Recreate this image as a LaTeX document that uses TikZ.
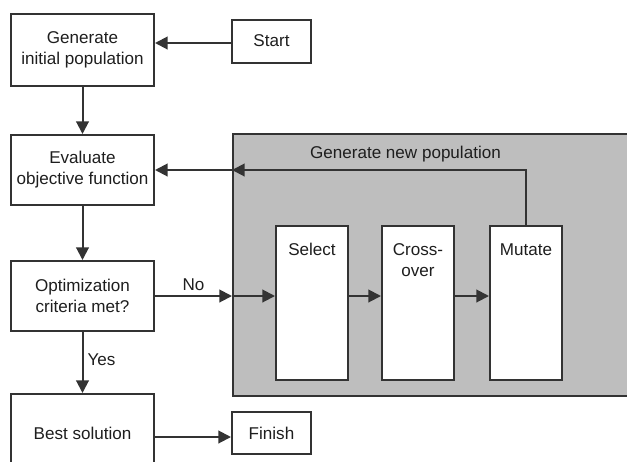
\documentclass[tikz,border=0pt]{standalone}
\usepackage{fontspec}
\setmainfont{Liberation Sans}
\usetikzlibrary{arrows.meta}
\definecolor{linec}{HTML}{333333}
\definecolor{panel}{HTML}{BEBEBE}
\definecolor{textc}{HTML}{1E1E1E}
\begin{document}
\begin{tikzpicture}[x=0.75pt,y=-0.75pt,
  font=\fontsize{12.8pt}{15.8pt}\selectfont, text=textc,
  box/.style={draw=linec, line width=1.5pt, fill=white, align=center, inner sep=0pt},
  wbox/.style={box, minimum width=107.25pt, minimum height=52.5pt},
  sbox/.style={box, minimum width=59.25pt, minimum height=32.25pt},
  tall/.style={box, minimum width=54pt, minimum height=115.5pt},
  arr/.style={draw=linec, line width=1.5pt, -{Triangle[length=9.5pt,width=9.5pt]}},
  lbl/.style={inner sep=0pt, align=center}]
\useasboundingbox (0,0) rectangle (627,461);
\clip (0,0) rectangle (627,461);
% panel
\node[draw=linec, line width=1.5pt, fill=panel, anchor=north west, minimum width=310pt, minimum height=196.5pt, inner sep=0pt] (pool) at (232,133) {};
% left column
\node[wbox, minimum height=54pt] (gen) at (82.5,50) {Generate\\initial population};
\node[sbox] (start) at (271.5,41) {Start};
\node[wbox] (eval) at (82.5,170) {Evaluate\\objective function};
\node[wbox] (opt) at (82.5,296) {Optimization\\criteria met?};
\node[wbox, minimum height=58.5pt] (best) at (82.5,433) {Best solution};
\node[sbox, minimum height=31.5pt] (finish) at (271.5,433) {Finish};
% tall boxes
\node[tall, label={[anchor=north, inner sep=0pt, yshift=-13.5pt]north:Select}] (sel) at (312,303) {};
\node[tall, label={[anchor=north, inner sep=0pt, yshift=-13.5pt, align=center]north:Cross-\\over}] (cross) at (418,303) {};
\node[tall, label={[anchor=north, inner sep=0pt, yshift=-13.5pt]north:Mutate}] (mut) at (526,303) {};
% connectors
\draw[arr] (start.west |- 0,43) -- (gen.east |- 0,43);
\draw[arr] (gen.south) -- (eval.north);
\draw[arr] (eval.south) -- (opt.north);
\draw[arr] (opt.south) -- node[lbl, right=3pt, pos=0.45] {Yes} (best.north);
\draw[arr] (best.east |- 0,437) -- (finish.west |- 0,437);
\draw[arr] (opt.east) -- node[lbl, above=3pt] {No} (opt.east -| pool.west);
\draw[arr] (opt.east -| pool.west) -- (opt.east -| sel.west);
\draw[arr] (sel.east |- opt.east) -- (cross.west |- opt.east);
\draw[arr] (cross.east |- opt.east) -- (mut.west |- opt.east);
\draw[arr] (mut.north) |- node[lbl, pos=0.705, above=5pt] {Generate new population} (eval.east -| pool.west);
\draw[arr] (eval.east -| pool.west) -- (eval.east);
\end{tikzpicture}
\end{document}
